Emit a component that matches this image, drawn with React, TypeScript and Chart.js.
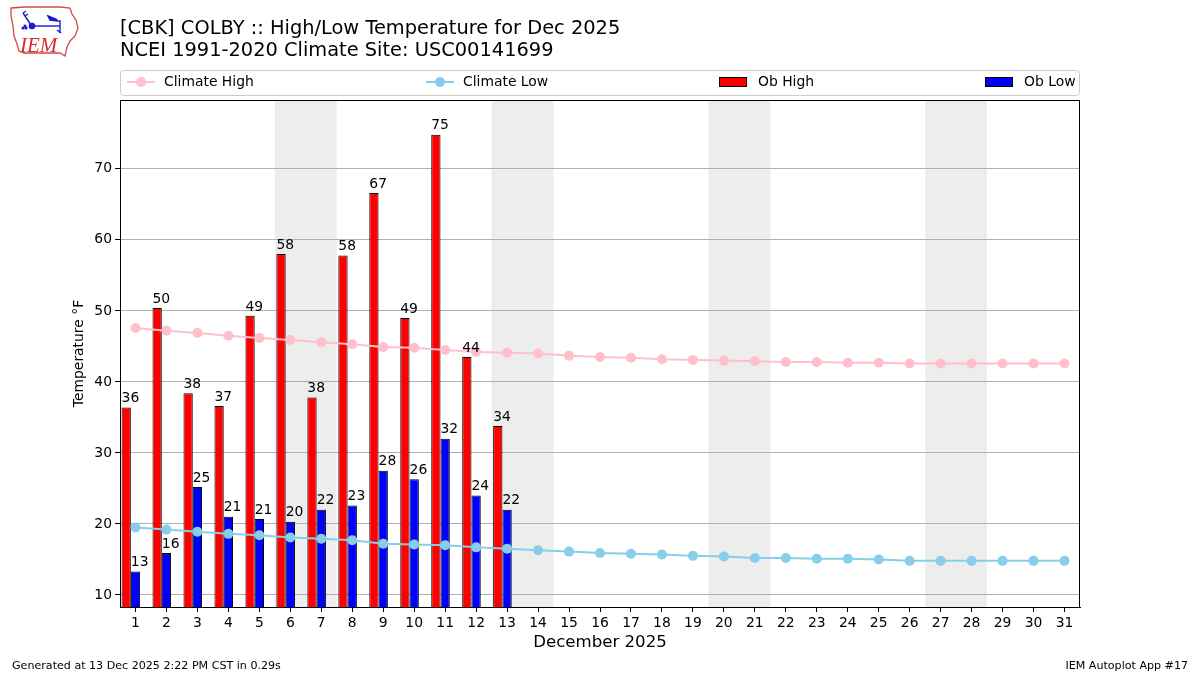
import React, { useEffect, useRef } from "react";
import { Chart, registerables } from "chart.js";
Chart.register(...registerables);

const days = ["1","2","3","4","5","6","7","8","9","10","11","12","13","14","15","16","17","18","19","20","21","22","23","24","25","26","27","28","29","30","31"];
const obDays = [1,2,3,4,5,6,7,8,9,10,11,12,13];
const obHigh = [36.4, 50.4, 38.4, 36.6, 49.3, 58.0, 37.8, 57.8, 66.6, 49.0, 74.8, 43.5, 33.8];
const obLow = [13.3, 15.9, 25.2, 21.0, 20.7, 20.3, 22.0, 22.6, 27.5, 26.3, 32.0, 24.0, 22.0];
const climateHigh = [47.6,47.2,46.9,46.5,46.2,45.9,45.6,45.3,44.9,44.8,44.5,44.2,44.1,44.0,43.7,43.5,43.4,43.2,43.1,43.0,42.9,42.8,42.8,42.7,42.7,42.6,42.6,42.6,42.6,42.6,42.6];
const climateLow = [19.5,19.2,18.9,18.6,18.4,18.1,17.9,17.7,17.2,17.1,17.0,16.7,16.5,16.3,16.1,15.9,15.8,15.7,15.5,15.4,15.2,15.2,15.1,15.1,15.0,14.8,14.8,14.8,14.8,14.8,14.8];
const weekendDays = [6,7,13,14,20,21,27,28];
const yTicks = [10,20,30,40,50,60,70];

const titleLines = ["[CBK] COLBY :: High/Low Temperature for Dec 2025", "NCEI 1991-2020 Climate Site: USC00141699"];
const xTitle = "December 2025";
const yTitle = "Temperature °F";
const footerLeft = "Generated at 13 Dec 2025 2:22 PM CST in 0.29s";
const footerRight = "IEM Autoplot App #17";

const FONT = "'DejaVu Sans', sans-serif";
const PINK = "#ffc0cb";
const SKY = "#87ceeb";
const TXT = 13.9;

const decorPlugin = {
  id: "decor",
  beforeDraw(chart: any) {
    const { ctx, chartArea } = chart;
    const x = chart.scales.x;
    ctx.save();
    ctx.fillStyle = "#ededed";
    const half = (x.getPixelForValue(1) - x.getPixelForValue(0)) / 2;
    for (const d of weekendDays) {
      const px = x.getPixelForValue(d - 1);
      ctx.fillRect(px - half, chartArea.top, half * 2, chartArea.bottom - chartArea.top);
    }
    ctx.restore();
  },
  afterDatasetsDraw(chart: any) {
    const { ctx } = chart;
    ctx.save();
    ctx.font = `${TXT}px ${FONT}`;
    ctx.fillStyle = "#000";
    ctx.textAlign = "left";
    ctx.textBaseline = "bottom";
    chart.data.datasets.forEach((ds: any, di: number) => {
      if (ds.type !== "bar") return;
      const meta = chart.getDatasetMeta(di);
      meta.data.forEach((el: any, i: number) => {
        const v = ds.data[i].y;
        ctx.fillText(String(Math.round(v)), el.x - el.width / 2, el.y - 2);
      });
    });
    ctx.restore();
  },
  afterDraw(chart: any) {
    const { ctx, chartArea } = chart;
    ctx.save();
    ctx.strokeStyle = "#000";
    ctx.lineWidth = 1;
    ctx.strokeRect(chartArea.left + 0.5, chartArea.top + 0.5, chartArea.right - chartArea.left - 1, chartArea.bottom - chartArea.top);
    ctx.fillStyle = "#000";
    ctx.textAlign = "left";
    ctx.textBaseline = "middle";
    ctx.font = `19.4px ${FONT}`;
    ctx.fillText(titleLines[0], 120, 29);
    ctx.fillText(titleLines[1], 120, 51);
    ctx.textAlign = "center";
    ctx.font = `16.6px ${FONT}`;
    ctx.fillText(xTitle, (chartArea.left + chartArea.right) / 2, 643);
    ctx.save();
    ctx.translate(79, (chartArea.top + chartArea.bottom) / 2);
    ctx.rotate(-Math.PI / 2);
    ctx.font = `${TXT}px ${FONT}`;
    ctx.fillText(yTitle, 0, 0);
    ctx.restore();
    ctx.font = `11.1px ${FONT}`;
    ctx.textAlign = "left";
    ctx.fillText(footerLeft, 12, 666);
    ctx.textAlign = "right";
    ctx.fillText(footerRight, 1188, 666);
    const lx = chartArea.left, rx = chartArea.right, ty = 70.5, by = 95.5;
    ctx.strokeStyle = "#cccccc";
    ctx.lineWidth = 1;
    ctx.beginPath();
    if (ctx.roundRect) ctx.roundRect(lx + 0.5, ty, rx - lx - 1, by - ty, 3); else ctx.rect(lx + 0.5, ty, rx - lx - 1, by - ty);
    ctx.stroke();
    const ly = 82;
    const drawLineEntry = (x0: number, color: string, label: string) => {
      ctx.strokeStyle = color;
      ctx.lineWidth = 2;
      ctx.beginPath();
      ctx.moveTo(x0, ly);
      ctx.lineTo(x0 + 28, ly);
      ctx.stroke();
      ctx.fillStyle = color;
      ctx.beginPath();
      ctx.arc(x0 + 14, ly, 5, 0, Math.PI * 2);
      ctx.fill();
      ctx.fillStyle = "#000";
      ctx.font = `${TXT}px ${FONT}`;
      ctx.textAlign = "left";
      ctx.textBaseline = "middle";
      ctx.fillText(label, x0 + 37, ly);
    };
    const drawBarEntry = (x0: number, color: string, label: string) => {
      ctx.fillStyle = color;
      ctx.fillRect(x0, 77, 28, 10);
      ctx.strokeStyle = "#000";
      ctx.lineWidth = 1;
      ctx.strokeRect(x0 + 0.5, 77.5, 27, 9);
      ctx.fillStyle = "#000";
      ctx.font = `${TXT}px ${FONT}`;
      ctx.textAlign = "left";
      ctx.textBaseline = "middle";
      ctx.fillText(label, x0 + 39, ly);
    };
    drawLineEntry(127, PINK, chart.data.datasets[0].label);
    drawLineEntry(426, SKY, chart.data.datasets[1].label);
    drawBarEntry(719, "#ff0000", chart.data.datasets[2].label);
    drawBarEntry(985, "#0000ff", chart.data.datasets[3].label);
    ctx.restore();
  },
};

function Logo() {
  return (
    <svg width={80} height={60} style={{ position: "absolute", left: 5, top: 2 }} viewBox="5 2 80 60">
      <path
        d="M11,8 L24,7 L60,7 L70,8 L72,14 L76,20 L78,28 L75,36 L70,41 L67,47 L65,56 L60,53 L24,53 L19,51 L17,44 L14,36 L13,26 L11,16 Z"
        fill="white"
        stroke="#d04848"
        strokeWidth={1.3}
      />
      <g stroke="#1a1ad0" fill="#1a1ad0" strokeWidth={1.4}>
        <line x1={32} y1={26} x2={60} y2={26} />
        <line x1={60} y1={20} x2={60} y2={33} />
        <line x1={23} y1={13} x2={31} y2={25} />
        <line x1={23} y1={13} x2={26} y2={11} />
        <line x1={25} y1={16} x2={28} y2={14} />
        <polygon points="48,16 56,19 58,21 50,20" />
        <line x1={57} y1={30} x2={61} y2={33} />
        <circle cx={32} cy={26} r={2.6} />
        <circle cx={23} cy={28} r={0.9} />
        <circle cx={25} cy={26} r={0.9} />
        <circle cx={26} cy={28} r={0.9} />
      </g>
      <text x={20} y={52} fill="#d03030" fontFamily="'Liberation Serif', serif" fontStyle="italic" fontSize={21}>IEM</text>
    </svg>
  );
}

export default function App() {
  const ref = useRef<HTMLCanvasElement | null>(null);
  useEffect(() => {
    if (!ref.current) return;
    const hiddenAxis = {
      type: "linear",
      display: false,
      offset: false,
      min: 0.5,
      max: 31.5,
      afterBuildTicks: (s: any) => { s.ticks = [{ value: 0.5 }, { value: 31.5 }]; },
    };
    const chart = new Chart(ref.current, {
      type: "bar",
      data: {
        labels: days,
        datasets: [
          {
            type: "line",
            label: "Climate High",
            data: climateHigh,
            borderColor: PINK,
            backgroundColor: PINK,
            borderWidth: 2,
            pointRadius: 5,
            pointBorderWidth: 0,
            pointBackgroundColor: PINK,
            xAxisID: "x",
            order: 0,
          } as any,
          {
            type: "line",
            label: "Climate Low",
            data: climateLow,
            borderColor: SKY,
            backgroundColor: SKY,
            borderWidth: 2,
            pointRadius: 5,
            pointBorderWidth: 0,
            pointBackgroundColor: SKY,
            xAxisID: "x",
            order: 0,
          } as any,
          {
            type: "bar",
            label: "Ob High",
            data: obDays.map((d, i) => ({ x: d - 0.3, y: obHigh[i] })),
            backgroundColor: "#ff0000",
            borderColor: "#000",
            borderWidth: 1,
            xAxisID: "xHi",
            grouped: false,
            categoryPercentage: 1,
            barPercentage: 0.3,
            order: 1,
          } as any,
          {
            type: "bar",
            label: "Ob Low",
            data: obDays.map((d, i) => ({ x: d, y: obLow[i] })),
            backgroundColor: "#0000ff",
            borderColor: "#000",
            borderWidth: 1,
            xAxisID: "xLo",
            grouped: false,
            categoryPercentage: 1,
            barPercentage: 0.3,
            order: 1,
          } as any,
        ],
      },
      options: {
        animation: false,
        responsive: false,
        devicePixelRatio: 1,
        layout: { padding: { left: 60, right: 120, top: 100, bottom: 20 } },
        plugins: { legend: { display: false }, tooltip: { enabled: false }, title: { display: false } },
        scales: {
          x: {
            type: "category",
            offset: true,
            grid: { offset: false, drawOnChartArea: false, drawTicks: true, tickLength: 5, tickColor: "#000" },
            border: { display: true, color: "#000" },
            ticks: { color: "#000", font: { family: FONT, size: TXT }, padding: 3, maxRotation: 0, autoSkip: false },
            afterFit: (s: any) => { s.height = 48; },
          },
          xHi: { ...hiddenAxis },
          xLo: { ...hiddenAxis },
          y: {
            type: "linear",
            min: 8.3,
            max: 79.7,
            afterBuildTicks: (s: any) => { s.ticks = yTicks.map((v) => ({ value: v })); },
            grid: { color: "#b0b0b0", lineWidth: 1, tickColor: "#000", tickLength: 5 },
            border: { display: true, color: "#000" },
            ticks: { color: "#000", font: { family: FONT, size: TXT }, padding: 3 },
            afterFit: (s: any) => { s.width = 60; },
          },
        },
      } as any,
      plugins: [decorPlugin],
    });
    return () => chart.destroy();
  }, []);
  return (
    <div style={{ position: "absolute", left: 0, top: 0, width: 1200, height: 675, background: "#fff" }}>
      <canvas ref={ref} width={1200} height={675} style={{ width: 1200, height: 675, display: "block" }} />
      <Logo />
    </div>
  );
}
